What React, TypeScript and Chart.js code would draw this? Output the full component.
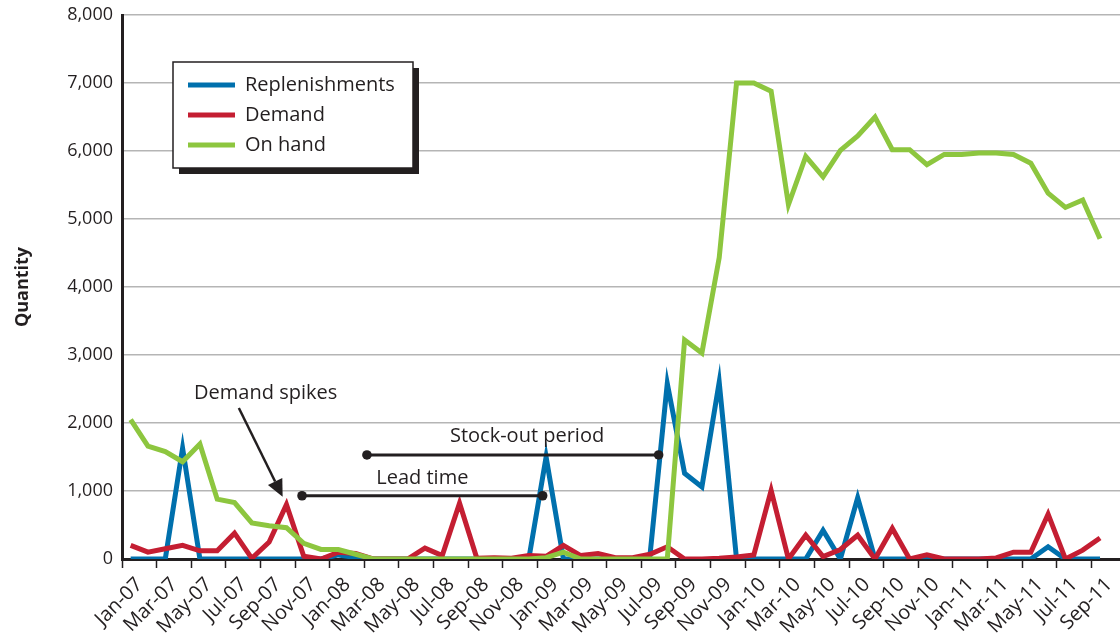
import React, { useEffect, useRef } from 'react';
import { Chart, registerables } from 'chart.js';

Chart.register(...registerables);

// Month categories (last one is an empty trailing slot on the axis)
const months = [
  'Jan-07', 'Feb-07', 'Mar-07', 'Apr-07', 'May-07', 'Jun-07', 'Jul-07', 'Aug-07', 'Sep-07', 'Oct-07', 'Nov-07', 'Dec-07',
  'Jan-08', 'Feb-08', 'Mar-08', 'Apr-08', 'May-08', 'Jun-08', 'Jul-08', 'Aug-08', 'Sep-08', 'Oct-08', 'Nov-08', 'Dec-08',
  'Jan-09', 'Feb-09', 'Mar-09', 'Apr-09', 'May-09', 'Jun-09', 'Jul-09', 'Aug-09', 'Sep-09', 'Oct-09', 'Nov-09', 'Dec-09',
  'Jan-10', 'Feb-10', 'Mar-10', 'Apr-10', 'May-10', 'Jun-10', 'Jul-10', 'Aug-10', 'Sep-10', 'Oct-10', 'Nov-10', 'Dec-10',
  'Jan-11', 'Feb-11', 'Mar-11', 'Apr-11', 'May-11', 'Jun-11', 'Jul-11', 'Aug-11', 'Sep-11', 'Oct-11',
];

const replenishments = [
  0, 0, 0, 1630, 0, 0, 0, 0, 0, 0, 0, 0,
  60, 20, 0, 0, 0, 0, 0, 0, 0, 0, 0, 0,
  1500, 0, 0, 0, 0, 0, 50, 2580, 1260, 1060, 2600, 0,
  0, 0, 0, 0, 420, 0, 900, 0, 0, 0, 0, 0,
  0, 0, 0, 0, 0, 180, 0, 0, 0,
];

const demand = [
  200, 100, 150, 200, 120, 120, 380, 10, 250, 800, 40, 0,
  100, 80, 0, 0, 0, 160, 50, 820, 10, 20, 10, 50,
  40, 200, 50, 80, 20, 20, 70, 180, 0, 0, 10, 30,
  60, 1010, 0, 350, 35, 140, 350, 0, 450, 0, 60, 0,
  0, 0, 15, 100, 100, 660, 0, 130, 310,
];

const onHand = [
  2050, 1660, 1580, 1430, 1690, 880, 830, 530, 490, 460, 230, 140,
  140, 70, 0, 0, 0, 0, 0, 0, 0, 0, 0, 0,
  20, 100, 0, 0, 0, 0, 0, 0, 3220, 3030, 4430, 7000,
  7000, 6880, 5210, 5920, 5620, 6010, 6220, 6500, 6020, 6020, 5800, 5950,
  5950, 5970, 5970, 5950, 5820, 5380, 5170, 5280, 4710,
];

const seriesNames = ['Replenishments', 'Demand', 'On hand'];
const seriesColors = ['#0070ad', '#c41e32', '#8dc63f'];

// Annotation spans, in data units (category index, quantity)
const spanLabels = ['Lead time', 'Stock-out period'];
const spanFrom = [9.9, 13.65];
const spanTo = [23.8, 30.5];
const spanValue = [930, 1530];
const spanLabelAt = [16.85, 22.9];
const spanLabelValue = [1190, 1800];

const calloutText = 'Demand spikes';
const calloutTextAt = [7.8, 2440];
const calloutTail = [6.25, 2220];
const calloutTip = [8.78, 915];

const INK = '#231f20';
const FONT = '"Open Sans", "Noto Sans", sans-serif';

const overlayPlugin = {
  id: 'overlay',
  afterDatasetsDraw(chart: any) {
    const { ctx } = chart;
    const xs = chart.scales.x;
    const ys = chart.scales.y;
    ctx.save();
    ctx.strokeStyle = INK;
    ctx.fillStyle = INK;
    ctx.lineWidth = 3;
    ctx.font = `20px ${FONT}`;
    ctx.textAlign = 'center';
    ctx.textBaseline = 'middle';

    for (let i = 0; i < spanLabels.length; i++) {
      const x1 = xs.getPixelForValue(spanFrom[i]);
      const x2 = xs.getPixelForValue(spanTo[i]);
      const py = ys.getPixelForValue(spanValue[i]);
      ctx.beginPath();
      ctx.moveTo(x1, py);
      ctx.lineTo(x2, py);
      ctx.stroke();
      for (const px of [x1, x2]) {
        ctx.beginPath();
        ctx.arc(px, py, 4.8, 0, Math.PI * 2);
        ctx.fill();
      }
      ctx.fillText(spanLabels[i], xs.getPixelForValue(spanLabelAt[i]), ys.getPixelForValue(spanLabelValue[i]));
    }

    // callout
    ctx.fillText(calloutText, xs.getPixelForValue(calloutTextAt[0]), ys.getPixelForValue(calloutTextAt[1]));
    const tx = xs.getPixelForValue(calloutTail[0]);
    const ty = ys.getPixelForValue(calloutTail[1]);
    const hx = xs.getPixelForValue(calloutTip[0]);
    const hy = ys.getPixelForValue(calloutTip[1]);
    const ang = Math.atan2(hy - ty, hx - tx);
    const headLen = 17;
    const headW = 8;
    const bx = hx - headLen * Math.cos(ang);
    const by = hy - headLen * Math.sin(ang);
    ctx.lineWidth = 2.5;
    ctx.beginPath();
    ctx.moveTo(tx, ty);
    ctx.lineTo(bx, by);
    ctx.stroke();
    ctx.beginPath();
    ctx.moveTo(hx, hy);
    ctx.lineTo(bx + headW * Math.sin(ang), by - headW * Math.cos(ang));
    ctx.lineTo(bx - headW * Math.sin(ang), by + headW * Math.cos(ang));
    ctx.closePath();
    ctx.fill();

    // legend box
    const lx = 173, ly = 62, lw = 240, lh = 106, sh = 6;
    ctx.fillStyle = INK;
    ctx.fillRect(lx + sh, ly + sh, lw, lh);
    ctx.fillStyle = '#ffffff';
    ctx.fillRect(lx, ly, lw, lh);
    ctx.lineWidth = 1.5;
    ctx.strokeStyle = INK;
    ctx.strokeRect(lx, ly, lw, lh);
    ctx.textAlign = 'left';
    ctx.textBaseline = 'middle';
    ctx.font = `20px ${FONT}`;
    chart.data.datasets.forEach((ds: any, i: number) => {
      const rowY = ly + 23 + i * 30;
      ctx.strokeStyle = ds.borderColor;
      ctx.lineWidth = 5;
      ctx.beginPath();
      ctx.moveTo(lx + 15, rowY);
      ctx.lineTo(lx + 62, rowY);
      ctx.stroke();
      ctx.fillStyle = INK;
      ctx.fillText(ds.label, lx + 72, rowY);
    });
    ctx.restore();
  },
};

export default function App() {
  const ref = useRef<HTMLCanvasElement | null>(null);

  useEffect(() => {
    document.body.style.overflow = 'hidden';
    const canvas = ref.current;
    if (!canvas) return;
    const seriesData = [replenishments, demand, onHand];
    const chart = new Chart(canvas, {
      type: 'line',
      data: {
        labels: months,
        datasets: seriesNames.map((name, i) => ({
          label: name,
          data: seriesData[i],
          borderColor: seriesColors[i],
          backgroundColor: seriesColors[i],
          borderWidth: 5,
          pointRadius: 0,
          tension: 0,
          fill: false,
          borderJoinStyle: 'miter' as const,
          order: 2 - i,
        })),
      },
      options: {
        responsive: false,
        animation: false,
        devicePixelRatio: 1,
        layout: { padding: { top: 15, left: 0, right: 0, bottom: 0 } },
        plugins: {
          legend: { display: false },
          tooltip: { enabled: false },
        },
        scales: {
          x: {
            type: 'category',
            offset: true,
            grid: {
              display: true,
              offset: true,
              drawOnChartArea: false,
              drawTicks: true,
              tickLength: 9,
              tickWidth: 1.5,
              tickColor: (c: any) => (c.index % 2 === 0 ? INK : 'rgba(0,0,0,0)'),
            },
            border: { display: true, color: INK, width: 3 },
            ticks: {
              autoSkip: false,
              minRotation: 45,
              maxRotation: 45,
              padding: 5,
              labelOffset: 9,
              color: INK,
              font: { family: FONT, size: 20 },
              callback: (_v: any, i: number) => (i % 2 === 0 ? months[i] : ''),
            },
            afterFit: (scale: any) => {
              scale.height = 76;
              scale.paddingLeft = 0;
              scale.paddingRight = 0;
            },
          },
          y: {
            min: 0,
            max: 8000,
            grid: {
              color: '#b5b5b5',
              lineWidth: 1.5,
              drawTicks: false,
            },
            border: { display: true, color: INK, width: 3 },
            ticks: {
              stepSize: 1000,
              padding: 9,
              color: INK,
              font: { family: FONT, size: 18 },
              callback: (v: any) => Number(v).toLocaleString('en-US'),
            },
            title: {
              display: true,
              text: 'Quantity',
              color: INK,
              font: { family: FONT, size: 18, weight: 'bold' },
              padding: { top: 12, bottom: 4 },
            },
            afterFit: (scale: any) => {
              scale.width = 122;
              scale.paddingTop = 0;
              scale.paddingBottom = 0;
            },
          },
        },
      },
      plugins: [overlayPlugin],
    });
    return () => chart.destroy();
  }, []);

  return (
    <div style={{ position: 'fixed', left: 0, top: 0, width: 1126, height: 635, background: '#ffffff' }}>
      <canvas ref={ref} width={1126} height={635} style={{ display: 'block' }} />
    </div>
  );
}
